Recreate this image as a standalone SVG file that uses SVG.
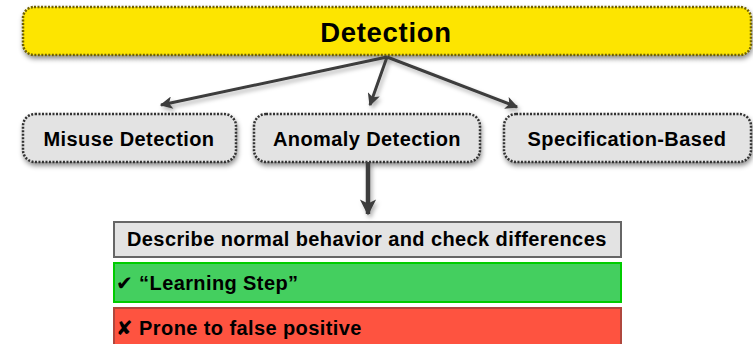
<svg xmlns="http://www.w3.org/2000/svg" width="753" height="344" viewBox="0 0 753 344">
  <defs>
    <filter id="shadow" x="-10%" y="-30%" width="120%" height="170%">
      <feDropShadow dx="1" dy="3" stdDeviation="2.5" flood-color="#000" flood-opacity="0.45"/>
    </filter>
    <filter id="lineShadow" x="-20%" y="-20%" width="140%" height="140%">
      <feDropShadow dx="2" dy="3" stdDeviation="2" flood-color="#000" flood-opacity="0.3"/>
    </filter>
    <marker id="head" viewBox="0 0 10 10" refX="9" refY="5" markerWidth="4.6" markerHeight="4.2" orient="auto" markerUnits="strokeWidth">
      <path d="M0,0 L10,5 L0,10 L2.5,5 z" fill="#3c3c3c"/>
    </marker>
    <marker id="headBig" viewBox="0 0 10 10" refX="9" refY="5" markerWidth="3.6" markerHeight="3.8" orient="auto" markerUnits="strokeWidth">
      <path d="M0,0 L10,5 L0,10 L2.5,5 z" fill="#3c3c3c"/>
    </marker>
  </defs>
  <style>
    text { font-family: "Liberation Sans", Arial, "DejaVu Sans", sans-serif; font-weight: bold; fill: #000; }
    .lbl { font-size: 20px; letter-spacing: 0.4px; }
    .title { font-size: 27.5px; letter-spacing: 0.7px; }
    .root { fill: #fde500; stroke: #6f6100; stroke-width: 2.5; stroke-dasharray: 2 1.5; }
    .node { fill: #e3e3e3; stroke: #333; stroke-width: 2.5; stroke-dasharray: 2 1.5; }
    .conn { stroke: #3c3c3c; stroke-width: 3; fill: none; }
    .conn.thick { stroke-width: 4.5; }
  </style>

  <g id="detection">
    <rect class="root" x="23" y="7" width="728" height="48" rx="11" filter="url(#shadow)"/>
    <text class="title" x="386" y="42" text-anchor="middle">Detection</text>
  </g>

  <g id="misuse">
    <rect class="node" x="23" y="114" width="213" height="48" rx="12" filter="url(#shadow)"/>
    <text class="lbl" x="129" y="146" text-anchor="middle">Misuse Detection</text>
  </g>

  <g id="anomaly">
    <rect class="node" x="254" y="114" width="226" height="48" rx="12" filter="url(#shadow)"/>
    <text class="lbl" x="367" y="146" text-anchor="middle">Anomaly Detection</text>
  </g>

  <g id="specification">
    <rect class="node" x="504" y="114" width="247" height="48" rx="12" filter="url(#shadow)"/>
    <text class="lbl" x="627" y="146" text-anchor="middle">Specification-Based</text>
  </g>

  <g id="connectors" filter="url(#lineShadow)">
    <line class="conn" x1="387" y1="57" x2="161" y2="105" marker-end="url(#head)"/>
    <line class="conn" x1="387" y1="57" x2="370" y2="105" marker-end="url(#head)"/>
    <line class="conn" x1="387" y1="57" x2="517" y2="107" marker-end="url(#head)"/>
    <line class="conn thick" x1="368" y1="162" x2="368" y2="214" marker-end="url(#headBig)"/>
  </g>

  <g id="describe">
    <rect x="114" y="222" width="507" height="35" fill="#e3e3e3" stroke="#666" stroke-width="2"/>
    <text class="lbl" x="127" y="246">Describe normal behavior and check differences</text>
  </g>

  <g id="learning">
    <rect x="114" y="263" width="507" height="39" fill="#44cf5f" stroke="#00cc00" stroke-width="2"/>
    <text class="lbl" x="116" y="290">✔ “Learning Step”</text>
  </g>

  <g id="false-positive">
    <rect x="114" y="308" width="507" height="40" fill="#fe5340" stroke="#b0473d" stroke-width="2"/>
    <text class="lbl" x="116" y="335">✘ Prone to false positive</text>
  </g>
</svg>
